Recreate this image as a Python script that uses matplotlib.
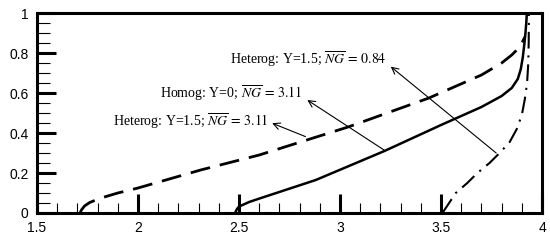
import numpy as np
import matplotlib
matplotlib.use('Agg')
import matplotlib.pyplot as plt

plt.rcParams['mathtext.fontset'] = 'stix'

# Heterog: Y=1.5; NG=3.11 (dashed)
x_het311 = [1.713, 1.72, 1.735, 1.76, 1.81, 1.9, 2.0, 2.31, 2.6, 3.04, 3.44, 3.7,
            3.8, 3.85, 3.88, 3.9, 3.915]
y_het311 = [0.0, 0.015, 0.035, 0.052, 0.073, 0.1, 0.125, 0.215, 0.29, 0.43, 0.575, 0.69,
            0.75, 0.79, 0.82, 0.85, 0.88]

# Homog: Y=0; NG=3.11 (solid)
x_hom = [2.48, 2.49, 2.5, 2.55, 2.6, 2.88, 3.22, 3.5, 3.7, 3.8, 3.85, 3.88, 3.895,
         3.905, 3.913, 3.918, 3.922, 3.925]
y_hom = [0.0, 0.02, 0.032, 0.055, 0.072, 0.165, 0.31, 0.44, 0.53, 0.585, 0.625, 0.67, 0.72,
         0.78, 0.85, 0.9, 0.95, 1.0]

# Heterog: Y=1.5; NG=0.84 (dash-dot)
x_het084 = [3.507, 3.54, 3.573, 3.63, 3.68, 3.74, 3.79, 3.84, 3.875, 3.9, 3.915,
            3.926, 3.932, 3.934, 3.935]
y_het084 = [0.0, 0.05, 0.1, 0.15, 0.2, 0.25, 0.3, 0.355, 0.42, 0.49, 0.57,
            0.65, 0.75, 0.85, 1.0]

labels = [r'Heterog: Y=1.5; $\overline{NG}\/=\/0.84$',
          r'Homog: Y=0; $\overline{NG}\/=\/3.11$',
          r'Heterog: Y=1.5; $\overline{NG}\/=\/3.11$']
text_pos = [(3.231, 0.77), (2.813, 0.60), (2.647, 0.457)]
arrow_tip = [(3.251, 0.732), (2.838, 0.565), (2.664, 0.449)]
arrow_tail = [(3.773, 0.30), (3.218, 0.315), (2.829, 0.382)]

xticks = [1.5, 2, 2.5, 3, 3.5, 4]
xticklabels = ['1.5', '2', '2.5', '3', '3.5', '4']
yticks = [0, 0.2, 0.4, 0.6, 0.8, 1]
yticklabels = ['0', '0.2', '0.4', '0.6', '0.8', '1']

fig = plt.figure(figsize=(5.5, 2.4), dpi=100)
ax = fig.add_axes([0.0673, 0.1125, 0.9182, 0.8333])

ax.plot(x_het311, y_het311, color='k', lw=2.0, dashes=(7.2, 3.6))
ax.plot(x_hom, y_hom, color='k', lw=1.8)
ax.plot(x_het084, y_het084, color='k', lw=1.5, dashes=(8, 3.3, 1, 3.3))

for lab, tp, tip, tail in zip(labels, text_pos, arrow_tip, arrow_tail):
    ax.text(tp[0], tp[1], lab, ha='right', va='center', fontsize=10,
            family='Liberation Serif')
    ax.annotate('', xy=tip, xytext=tail,
                arrowprops=dict(arrowstyle='->', color='k', lw=0.8,
                                shrinkA=0, shrinkB=0, mutation_scale=12))

ax.set_xlim(1.5, 4)
ax.set_ylim(0, 1)
ax.set_xticks(xticks)
ax.set_xticklabels(xticklabels)
ax.set_xticks(np.arange(1.6, 4.0, 0.1), minor=True)
ax.set_yticks(yticks)
ax.set_yticklabels(yticklabels)
ax.set_yticks(np.arange(0.05, 1.0, 0.05), minor=True)

ax.tick_params(which='both', direction='in', top=False, right=False)
ax.tick_params(which='major', length=14, width=2.2, labelsize=10, pad=6)
ax.tick_params(axis='x', which='minor', length=7, width=0.8)
ax.tick_params(axis='y', which='minor', length=9, width=0.8)
for lab in ax.get_xticklabels() + ax.get_yticklabels():
    lab.set_family('Liberation Sans')
for s in ax.spines.values():
    s.set_linewidth(2.2)

plt.savefig('out.png', dpi=100)
